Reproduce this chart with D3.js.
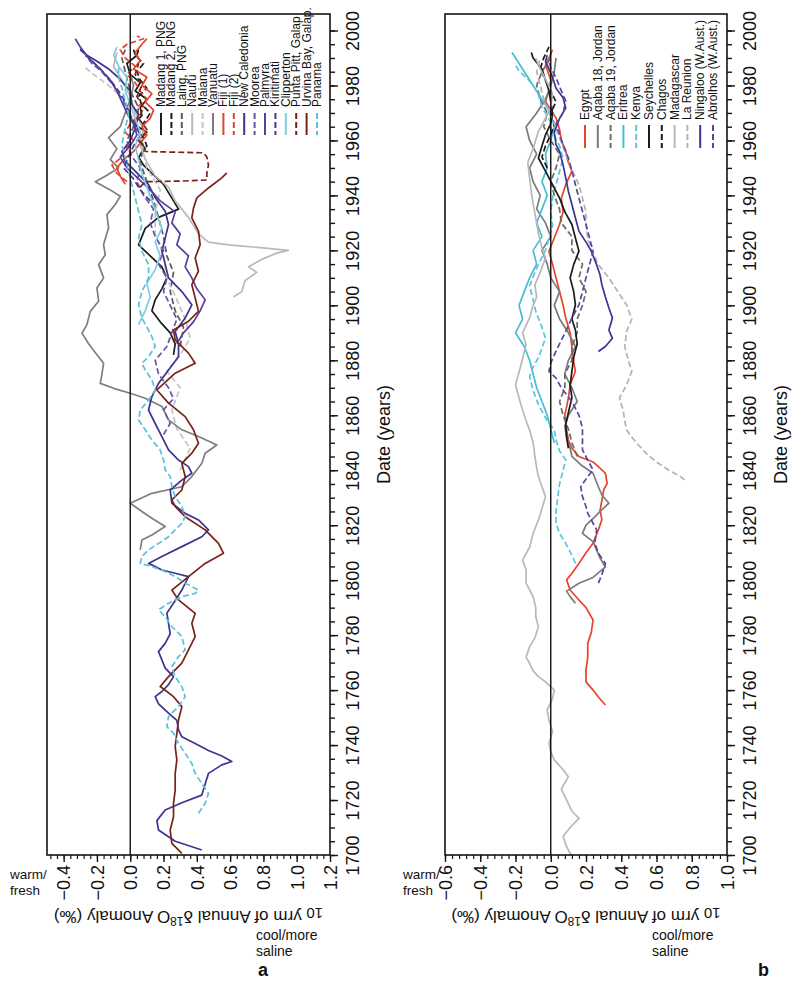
<!DOCTYPE html>
<html>
<head>
<meta charset="utf-8">
<script src="https://cdn.jsdelivr.net/npm/d3@7"></script>
<style>
  body { margin: 0; background: #fff; }
  svg { display: block; }
</style>
</head>
<body>
<div id="container"></div>
<script>
(function() {

// ---- data: [year, 10 yr running mean d18O anomaly] ----
// panel a (Pacific)
let madang1 = [[1882,0.26],[1886,0.27],[1890,0.24],[1894,0.18],[1898,0.13],[1902,0.15],[1906,0.19],[1910,0.22],[1914,0.19],[1918,0.12],[1922,0.05],[1925,0.07],[1928,0.09],[1932,0.17],[1935,0.29],[1937,0.27],[1941,0.23],[1944,0.2],[1948,0.13],[1951,0.08],[1954,0.05],[1957,0.09],[1960,0.05],[1963,0.1],[1966,0.02],[1969,0.07],[1972,0.06],[1975,0.1],[1978,0.03],[1981,0.06],[1984,0.0],[1988,-0.02],[1991,0.04],[1993,0.05]];
let madang2 = [[1955,0.06],[1958,0.1],[1961,0.08],[1964,0.04],[1967,0.09],[1970,0.12],[1973,0.07],[1976,0.05],[1979,0.1],[1982,0.06],[1985,0.04],[1988,0.08],[1991,0.03],[1993,0.02]];
let laing = [[1885,0.3],[1892,0.32],[1898,0.27],[1905,0.24],[1912,0.26],[1918,0.22],[1925,0.2],[1932,0.17],[1938,0.14],[1945,0.1],[1952,0.06],[1958,0.08],[1965,0.03],[1972,0.05],[1978,0.0],[1985,-0.03],[1990,-0.05],[1993,-0.03]];
let nauru = [[1903,0.62],[1905,0.67],[1909,0.69],[1912,0.76],[1914,0.71],[1917,0.8],[1919,0.88],[1920,0.95],[1921,0.78],[1922,0.59],[1923,0.47],[1926,0.41],[1929,0.38],[1932,0.35],[1935,0.31],[1938,0.27],[1943,0.23],[1947,0.15],[1952,0.1],[1958,0.06],[1964,0.08],[1970,0.03],[1976,0.0],[1982,-0.05],[1987,-0.1],[1992,-0.08]];
let maiana = [[1840,0.3],[1848,0.36],[1855,0.28],[1862,0.25],[1870,0.3],[1876,0.22],[1882,0.3],[1888,0.36],[1895,0.33],[1902,0.28],[1910,0.22],[1918,0.2],[1926,0.15],[1934,0.15],[1942,0.18],[1950,0.1],[1958,0.07],[1965,0.04],[1970,0.0],[1975,-0.04],[1980,-0.13],[1984,-0.22],[1987,-0.28]];
let vanuatu = [[1811,0.06],[1814.6,0.07],[1816.4,0.13],[1819.5,0.21],[1822.5,0.13],[1825,0.07],[1828,0.0],[1831.6,0.13],[1834,0.31],[1837.7,0.37],[1842.5,0.43],[1846.2,0.45],[1849.2,0.52],[1852.3,0.41],[1854.7,0.31],[1858.3,0.23],[1863.2,0.19],[1866.2,0.09],[1868,0.0],[1869.8,-0.1],[1871.6,-0.18],[1875,-0.17],[1878.9,-0.16],[1882,-0.2],[1886,-0.25],[1889.9,-0.29],[1893,-0.26],[1897.8,-0.24],[1901.5,-0.19],[1906.3,-0.2],[1910,-0.16],[1914.8,-0.19],[1918.4,-0.15],[1922.1,-0.16],[1928.2,-0.13],[1933,-0.14],[1936.7,-0.09],[1939.7,-0.06],[1942,-0.12],[1945,-0.21],[1947,-0.15],[1950,-0.07],[1953,-0.12],[1957,-0.08],[1961,-0.13],[1965,-0.06],[1970,-0.03],[1975,0.0],[1980,0.02],[1984,0.0]];
let fiji1 = [[1944,-0.03],[1947,-0.06],[1950,-0.08],[1953,-0.04],[1956,0.02],[1959,0.06],[1962,0.1],[1965,0.07],[1968,0.12],[1971,0.14],[1974,0.09],[1977,0.13],[1980,0.07],[1983,0.1],[1986,0.02],[1989,0.06],[1992,0.03],[1995,0.07],[1997,0.1]];
let fiji2 = [[1945,-0.02],[1948,-0.08],[1951,-0.11],[1954,-0.05],[1957,-0.03],[1960,0.02],[1963,-0.03],[1966,0.0],[1969,0.05],[1972,0.04],[1975,0.1],[1978,0.06],[1981,0.03],[1984,-0.02],[1987,0.03],[1990,-0.03],[1993,-0.06],[1995,-0.02],[1997,0.08],[1998,0.04]];
let newCaledonia = [[1701.8,0.43],[1705,0.27],[1709.1,0.17],[1712.5,0.16],[1716.4,0.21],[1719,0.31],[1721.8,0.43],[1725.8,0.45],[1729.7,0.47],[1732.8,0.55],[1734,0.61],[1736,0.55],[1738,0.47],[1740.6,0.39],[1743,0.31],[1745.5,0.29],[1749,0.28],[1751.6,0.23],[1755,0.17],[1757.6,0.15],[1759.5,0.19],[1762,0.23],[1764.9,0.26],[1768,0.21],[1771,0.19],[1774,0.17],[1777,0.21],[1780.5,0.24],[1784.3,0.23],[1788,0.22],[1791.6,0.26],[1796.4,0.31],[1801.3,0.35],[1802.5,0.27],[1803.7,0.19],[1805,0.15],[1806.1,0.11],[1808.6,0.19],[1812.2,0.31],[1815.8,0.43],[1818.3,0.47],[1821.9,0.41],[1824.3,0.33],[1828,0.25],[1832.8,0.24],[1836.4,0.31],[1838.9,0.37],[1841.3,0.35],[1843.7,0.29],[1847.4,0.23],[1852.2,0.19],[1857,0.15],[1861.9,0.11],[1866.8,0.13],[1871.6,0.17],[1876.5,0.23],[1881.3,0.29],[1886,0.29],[1890.5,0.27],[1895.4,0.33],[1900.2,0.37],[1905,0.31],[1910,0.23],[1915,0.21],[1919.7,0.19],[1924.5,0.21],[1929.4,0.23],[1934.2,0.21],[1939.1,0.15],[1943.9,0.11],[1948.8,0.03],[1952.4,-0.03],[1956,-0.05],[1960,0.0],[1964.5,0.03],[1969.4,0.05],[1973,0.01],[1978,0.0],[1982.8,-0.07],[1986,-0.13],[1988.8,-0.2],[1991,-0.26],[1993,-0.3]];
let moorea = [[1853,0.2],[1857,0.24],[1862,0.2],[1866,0.26],[1870,0.23],[1875,0.17],[1880,0.15],[1885,0.22],[1890,0.25],[1895,0.28],[1900,0.24],[1905,0.2],[1910,0.22],[1915,0.17],[1920,0.2],[1925,0.15],[1930,0.12],[1935,0.14],[1940,0.08],[1945,0.04],[1950,0.06],[1955,0.0],[1960,-0.02],[1965,0.02],[1970,0.0],[1975,-0.05],[1980,-0.1],[1985,-0.17],[1988,-0.23],[1991,-0.27]];
let palmyra = [[1886,0.28],[1890,0.32],[1894,0.38],[1898,0.42],[1902,0.45],[1906,0.4],[1910,0.37],[1914,0.33],[1918,0.35],[1922,0.28],[1926,0.3],[1930,0.25],[1934,0.27],[1938,0.18],[1942,0.12],[1946,0.05],[1950,-0.02],[1954,-0.06],[1958,0.0],[1962,0.04],[1966,0.02],[1970,-0.02],[1974,-0.05],[1978,-0.08],[1982,-0.12],[1986,-0.18],[1990,-0.25],[1994,-0.3],[1997,-0.33]];
let kiritimati = [[1938,0.12],[1942,0.06],[1946,0.02],[1950,-0.04],[1954,-0.01],[1958,0.02],[1962,0.06],[1966,0.03],[1970,-0.01],[1974,-0.03],[1978,-0.07],[1982,-0.12],[1986,-0.18],[1990,-0.25],[1994,-0.31]];
let clipperton = [[1893,0.05],[1898,0.09],[1903,0.12],[1908,0.1],[1913,0.15],[1918,0.18],[1923,0.15],[1928,0.19],[1933,0.16],[1938,0.13],[1943,0.1],[1948,0.07],[1953,0.05],[1958,0.03],[1963,0.06],[1968,0.03],[1973,0.0],[1978,-0.03],[1983,-0.02],[1987,-0.07],[1991,-0.1],[1994,-0.08]];
let puntaPitt = [[1943,0.06],[1945,0.09],[1945.2,0.3],[1945.6,0.46],[1948,0.46],[1951,0.47],[1954,0.46],[1955.5,0.44],[1955.8,0.2],[1956,0.09],[1960,0.06],[1964,0.1],[1968,0.05],[1972,0.08],[1976,0.04],[1980,0.07],[1984,0.03],[1988,0.05]];
let urvinaBay = [[1700.6,0.31],[1704.2,0.25],[1709.1,0.24],[1713.9,0.26],[1718.8,0.26],[1723.6,0.27],[1729.7,0.27],[1734.6,0.28],[1739.4,0.27],[1744.3,0.28],[1749.1,0.29],[1754,0.31],[1757.6,0.26],[1761.3,0.18],[1764.9,0.23],[1769.8,0.31],[1774.6,0.35],[1779.5,0.39],[1784.3,0.37],[1787.9,0.39],[1792.8,0.29],[1796.4,0.25],[1801.3,0.35],[1806.1,0.45],[1809.8,0.56],[1813.4,0.53],[1818.3,0.45],[1823.1,0.33],[1826.8,0.27],[1829.2,0.25],[1832.8,0.31],[1837.7,0.33],[1842.5,0.31],[1846.2,0.37],[1849.8,0.41],[1854.7,0.38],[1859.5,0.33],[1864.4,0.23],[1869.2,0.16],[1875.3,0.27],[1878.9,0.39],[1882.6,0.35],[1887.4,0.27],[1891,0.26],[1894.2,0.35],[1897.8,0.41],[1902.7,0.39],[1907.5,0.37],[1912.4,0.41],[1917.2,0.39],[1922.1,0.42],[1927,0.41],[1931.8,0.37],[1935.4,0.38],[1939.1,0.4],[1942.7,0.47],[1946.4,0.55],[1948.2,0.58]];
let panama = [[1715.2,0.41],[1718.8,0.45],[1722.4,0.47],[1726,0.43],[1729.7,0.39],[1733.3,0.37],[1737,0.33],[1740.6,0.29],[1744.3,0.26],[1746.7,0.22],[1750.4,0.23],[1754,0.29],[1757.6,0.33],[1761.3,0.31],[1764.9,0.27],[1768.5,0.25],[1772.2,0.29],[1774.6,0.33],[1779.5,0.31],[1783.1,0.25],[1786.7,0.21],[1789.2,0.17],[1791.6,0.23],[1794,0.31],[1795.2,0.39],[1796.4,0.41],[1798.9,0.33],[1801.3,0.27],[1803.7,0.19],[1804.9,0.13],[1806.1,0.06],[1808.6,0.07],[1811,0.11],[1813.4,0.17],[1815.8,0.23],[1818.3,0.27],[1820.7,0.31],[1823.1,0.33],[1826.8,0.31],[1830.4,0.27],[1834,0.25],[1837.7,0.24],[1840.1,0.21],[1843.7,0.2],[1847.4,0.18],[1851,0.13],[1854.7,0.09],[1858.3,0.05],[1861.9,0.06],[1865.5,0.11],[1869.2,0.15],[1872.8,0.13],[1876.5,0.09],[1878.9,0.07],[1881.3,0.11],[1885,0.15],[1888.6,0.13],[1891,0.11],[1895.4,0.07],[1900.2,0.05],[1905,0.07],[1910,0.11],[1914.8,0.11],[1919.7,0.07],[1924.5,0.05],[1929.4,0.07],[1934.2,0.05],[1939,0.03],[1943.9,0.01],[1948.8,-0.01],[1953.6,-0.03],[1958.5,-0.05],[1964.5,-0.03],[1969.4,-0.01],[1974.3,-0.03],[1979.1,-0.05],[1982.8,-0.07],[1986.4,-0.07]];

// panel b (Indian Ocean / Red Sea)
let egypt = [[1754.6,0.31],[1757.5,0.27],[1760,0.24],[1763,0.2],[1767.3,0.2],[1772,0.21],[1777,0.21],[1781,0.23],[1785.5,0.24],[1790,0.2],[1792.8,0.16],[1796.4,0.11],[1800.1,0.09],[1802.5,0.12],[1806.1,0.16],[1810,0.2],[1813.4,0.24],[1818.3,0.27],[1822,0.29],[1825.5,0.28],[1829,0.29],[1832.8,0.3],[1835.2,0.32],[1838.9,0.31],[1841.3,0.27],[1843,0.24],[1845,0.16],[1848,0.12],[1851,0.1],[1854.7,0.09],[1860,0.08],[1866.3,0.1],[1871,0.11],[1876,0.14],[1879.6,0.13],[1885,0.12],[1890,0.11],[1895.4,0.085],[1900,0.07],[1905,0.05],[1910,0.03],[1915,0.01],[1919.7,-0.01],[1924.5,0.02],[1929.4,0.05],[1934,0.07],[1939,0.06],[1943.9,0.085],[1948.8,0.12],[1952,0.1],[1956.1,0.085],[1960,0.06],[1964,0.05],[1968.2,0.03],[1971,0.0],[1974.3,-0.03],[1978,-0.01],[1982,0.0],[1987.6,-0.03],[1990,-0.01],[1993,0.01]];
let aqaba18 = [[1791.6,0.14],[1794,0.11],[1796,0.09],[1798.9,0.16],[1801,0.24],[1804.8,0.31],[1808,0.28],[1811,0.26],[1814,0.24],[1817,0.18],[1820,0.2],[1823,0.25],[1825,0.28],[1828,0.33],[1831,0.29],[1834,0.27],[1838.9,0.24],[1842,0.17],[1845,0.12],[1848,0.11],[1852,0.09],[1856,0.08],[1860,0.1],[1865,0.15],[1870,0.12],[1875,0.08],[1880,0.1],[1885,0.14],[1890,0.1],[1895,0.05],[1900,0.02],[1905,0.05],[1910,0.0],[1915,-0.02],[1920,-0.05],[1925,0.0],[1930,-0.03],[1935,-0.08],[1940,-0.06],[1945,-0.1],[1950,-0.12],[1955,-0.08],[1960,-0.12],[1965,-0.14],[1970,-0.08],[1975,-0.03],[1980,0.0],[1985,0.02],[1990,0.03]];
let aqaba19 = [[1845,0.15],[1850,0.12],[1855,0.1],[1860,0.07],[1865,0.05],[1870,0.08],[1875,0.08],[1880,0.12],[1885,0.12],[1890,0.15],[1895,0.15],[1900,0.18],[1905,0.2],[1910,0.16],[1915,0.18],[1920,0.12],[1925,0.12],[1930,0.06],[1935,0.05],[1940,0.02],[1945,0.0],[1950,0.03],[1955,0.05],[1960,0.0],[1965,-0.04],[1970,-0.02],[1975,-0.06],[1980,-0.08],[1985,-0.05],[1990,0.0],[1992,0.0]];
let eritrea = [[1850,0.02],[1855,0.0],[1860,-0.02],[1865,-0.05],[1870,-0.08],[1875,-0.1],[1880,-0.12],[1885,-0.15],[1890,-0.2],[1895,-0.16],[1900,-0.18],[1905,-0.15],[1910,-0.12],[1915,-0.08],[1920,-0.1],[1925,-0.05],[1930,-0.08],[1935,-0.05],[1940,-0.02],[1945,-0.05],[1950,-0.02],[1955,-0.03],[1960,0.0],[1965,0.02],[1970,0.0],[1975,-0.05],[1980,-0.1],[1985,-0.15],[1990,-0.2],[1992,-0.22]];
let kenya = [[1806.1,0.14],[1809,0.12],[1813.4,0.085],[1817,0.05],[1820.7,0.03],[1825,0.03],[1830.4,0.04],[1835,0.05],[1840.1,0.07],[1843.7,0.085],[1847,0.05],[1851,0.03],[1854.7,0.02],[1858,-0.02],[1863.8,-0.07],[1869,-0.1],[1874,-0.12],[1877.5,-0.1],[1881,-0.07],[1888,-0.03],[1892,-0.05],[1897.8,-0.085],[1902,-0.1],[1907,-0.12],[1912,-0.09],[1915,-0.07],[1920,-0.03],[1924.5,-0.01],[1929,0.01],[1934,0.0],[1939,0.01],[1943.9,0.03],[1948.8,0.05],[1953.6,0.07],[1958,0.05],[1963,0.01],[1968,-0.01],[1972,-0.05],[1976.7,-0.07],[1980,-0.1],[1983,-0.14],[1985.2,-0.18],[1987.6,-0.2]];
let seychelles = [[1848,0.1],[1852,0.09],[1856.6,0.085],[1861,0.1],[1866.3,0.12],[1871,0.11],[1876,0.12],[1881,0.13],[1886,0.15],[1891,0.14],[1895,0.12],[1900.2,0.14],[1905,0.13],[1910,0.11],[1914.8,0.13],[1919.7,0.16],[1924.5,0.14],[1929.4,0.12],[1934,0.08],[1939,0.05],[1943.9,0.01],[1948.8,-0.03],[1953.6,-0.07],[1958,-0.05],[1962,-0.03],[1966,0.0],[1970,0.01],[1974,0.0],[1978,-0.01],[1982,-0.03],[1986,-0.05],[1990,-0.1],[1992,-0.11]];
let chagos = [[1950,-0.02],[1954,-0.05],[1958,-0.03],[1962,0.0],[1966,0.02],[1970,0.0],[1974,0.03],[1978,0.0],[1982,-0.03],[1986,-0.06],[1990,-0.04],[1994,-0.01]];
let madagascar = [[1699.5,0.12],[1703,0.09],[1706.7,0.07],[1710,0.11],[1713.3,0.16],[1716,0.12],[1720,0.09],[1724,0.06],[1728.5,0.1],[1731,0.07],[1734.6,0.02],[1737.5,0.0],[1740.6,-0.01],[1745,0.01],[1749,-0.01],[1752.8,-0.02],[1757,0.01],[1760,0.02],[1763,-0.03],[1764.9,-0.07],[1767,-0.1],[1769.7,-0.12],[1772,-0.14],[1775.8,-0.12],[1779,-0.09],[1783.1,-0.07],[1786.7,-0.085],[1790,-0.085],[1794,-0.1],[1798.9,-0.14],[1803.7,-0.14],[1807.3,-0.16],[1812,-0.12],[1817,-0.1],[1821.9,-0.07],[1826,-0.05],[1830.4,-0.03],[1834,-0.05],[1837.7,-0.07],[1841,-0.08],[1845,-0.09],[1850,-0.1],[1854.7,-0.12],[1858,-0.14],[1864,-0.17],[1871,-0.2],[1878,-0.17],[1885.7,-0.14],[1890,-0.16],[1895.4,-0.12],[1900,-0.1],[1903,-0.08],[1907.5,-0.09],[1912,-0.06],[1917.2,-0.03],[1921,-0.05],[1926,-0.07],[1931.8,-0.085],[1937,-0.1],[1941,-0.11],[1946.4,-0.12],[1952,-0.13],[1957,-0.1],[1963.3,-0.07],[1968,-0.03],[1972,0.0],[1976.7,0.01],[1981,-0.02],[1986,-0.06],[1990,-0.085]];
let laReunion = [[1836.5,0.76],[1838,0.73],[1840,0.67],[1843,0.6],[1846.2,0.54],[1849,0.5],[1852,0.46],[1854.7,0.43],[1858,0.42],[1862,0.41],[1866.3,0.39],[1871,0.43],[1876,0.46],[1880,0.44],[1885,0.42],[1890.5,0.43],[1895,0.46],[1900.2,0.43],[1905,0.38],[1910,0.33],[1914.8,0.27],[1919,0.24],[1924,0.21],[1929.4,0.2],[1934,0.2],[1939,0.18],[1943.9,0.16],[1948,0.13],[1952,0.1],[1956,0.08],[1960.9,0.05],[1966,0.02],[1970,-0.01],[1975,-0.04],[1980,-0.06],[1985,-0.08],[1990,-0.06]];
let ningaloo = [[1883.2,0.27],[1885,0.31],[1888,0.35],[1891,0.33],[1895.4,0.35],[1899,0.33],[1903,0.31],[1907.5,0.29],[1911,0.28],[1914.8,0.26],[1919.7,0.23],[1923,0.2],[1927,0.16],[1931.8,0.14],[1936.7,0.12],[1941.5,0.1],[1946.4,0.085],[1951,0.07],[1956,0.05],[1958.5,0.03],[1963,0.02],[1968,0.05],[1971.8,0.085],[1975.5,0.07],[1979,0.03],[1983,0.01],[1986,-0.01],[1988.8,-0.03],[1991,-0.02]];
let abrolhos = [[1798.9,0.27],[1802,0.29],[1806.1,0.31],[1809.8,0.27],[1813.4,0.25],[1818.3,0.26],[1821.9,0.23],[1824.3,0.21],[1826.8,0.2],[1830.4,0.18],[1834,0.17],[1837.7,0.21],[1840.1,0.24],[1843.7,0.21],[1847.4,0.18],[1851,0.18],[1855.3,0.18],[1860,0.16],[1865,0.12],[1870,0.06],[1873.5,0.03],[1876,-0.01],[1879,0.0],[1882,0.02],[1886,0.05],[1890.5,0.085],[1895.4,0.12],[1900.2,0.16],[1905,0.18],[1910,0.2],[1914.8,0.22],[1919.7,0.24],[1924.5,0.22],[1929.4,0.2],[1934.2,0.18],[1939,0.16],[1943.9,0.14],[1948.8,0.12],[1953.6,0.1],[1958.5,0.07],[1962,0.05],[1966,0.03],[1970,0.07],[1974.3,0.085],[1978,0.06],[1982.8,0.03],[1986.4,0.0],[1988.8,-0.01]];

let namesA = ["Madang 1, PNG", "Madang 2, PNG", "Laing, PNG", "Nauru", "Maiana", "Vanuatu", "Fiji (1)", "Fiji (2)",
  "New Caledonia", "Moorea", "Palmyra", "Kiritimati", "Clipperton", "Punta Pitt, Galap", "Urvina Bay, Galap.", "Panama"];
let seriesA = [madang1, madang2, laing, nauru, maiana, vanuatu, fiji1, fiji2,
  newCaledonia, moorea, palmyra, kiritimati, clipperton, puntaPitt, urvinaBay, panama];
let colorsA = ["#1b1b1b", "#1b1b1b", "#5a5a5a", "#b9b9b9", "#c4c4c4", "#7e7e7e", "#e2432c", "#e2432c",
  "#3b3492", "#6a52aa", "#5a3e9f", "#4a3895", "#7fcce2", "#7a2215", "#7a2215", "#5cc0da"];
let dashedA = [false, true, true, false, true, false, false, true, false, true, false, true, false, true, false, true];

let namesB = ["Egypt", "Aqaba 18, Jordan", "Aqaba 19, Jordan", "Eritrea", "Kenya", "Seychelles", "Chagos",
  "Madagascar", "La Reunion", "Ningaloo (W.Aust.)", "Abrolhos (W.Aust.)"];
let seriesB = [egypt, aqaba18, aqaba19, eritrea, kenya, seychelles, chagos, madagascar, laReunion, ningaloo, abrolhos];
let colorsB = ["#e8442b", "#7b7b7b", "#6a6a6a", "#46bdd7", "#5cc4dc", "#1b1b1b", "#1b1b1b",
  "#b8b8b8", "#b3b3b3", "#3b3595", "#5b44a3"];
let dashedB = [false, false, true, false, true, false, true, false, true, false, true];

let dateTicks = d3.range(1700, 2001, 20);
let dateMinor = d3.range(1700, 2001, 5);

// ---- layout ----
let width = 792, height = 983;
let plotTop = 14, plotBottom = 855;
let font = '"Liberation Sans", Arial, Helvetica, sans-serif';

let svg = d3.select("#container").append("svg")
  .attr("width", width)
  .attr("height", height)
  .style("font-family", font);

let y = d3.scaleLinear().domain([1700, 2006]).range([plotBottom, plotTop]);

let panels = [
  { id: "a", left: 47, right: 330, domain: [-0.5, 1.2], step: 0.2,
    names: namesA, series: seriesA, colors: colorsA, dashed: dashedA,
    legendX: 161, legendDx: 10.4, legendTop: 113, legendBottom: 135, legendTextY: 107,
    warmX: 10, coolX: 256, letterX: 258 },
  { id: "b", left: 445, right: 727, domain: [-0.6, 1.0], step: 0.2,
    names: namesB, series: seriesB, colors: colorsB, dashed: dashedB,
    legendX: 585, legendDx: 12.8, legendTop: 125, legendBottom: 148, legendTextY: 120,
    warmX: 403, coolX: 652, letterX: 758 }
];

panels.forEach(drawPanel);

function drawPanel(p) {
  let x = d3.scaleLinear().domain(p.domain).range([p.left, p.right]);
  let g = svg.append("g");

  let clipId = "clip-" + p.id;
  g.append("clipPath").attr("id", clipId)
    .append("rect")
      .attr("x", p.left).attr("y", plotTop)
      .attr("width", p.right - p.left).attr("height", plotBottom - plotTop);

  // lines
  let line = d3.line()
    .x((d) => x(d[1]))
    .y((d) => y(d[0]));
  let lines = g.append("g").attr("clip-path", "url(#" + clipId + ")");
  p.series.forEach((s, i) => {
    lines.append("path")
      .datum(s)
      .attr("d", line)
      .attr("fill", "none")
      .attr("stroke", p.colors[i])
      .attr("stroke-width", 1.7)
      .attr("stroke-linejoin", "round")
      .attr("stroke-dasharray", p.dashed[i] ? "6,3" : null);
  });

  // zero line
  g.append("line")
    .attr("x1", x(0)).attr("x2", x(0))
    .attr("y1", plotTop).attr("y2", plotBottom)
    .attr("stroke", "#111").attr("stroke-width", 1.4);

  // frame
  g.append("rect")
    .attr("x", p.left).attr("y", plotTop)
    .attr("width", p.right - p.left).attr("height", plotBottom - plotTop)
    .attr("fill", "none").attr("stroke", "#1a1210").attr("stroke-width", 1.6);

  // date axis on the right edge
  let minorDate = g.append("g")
    .attr("transform", "translate(" + p.right + ",0)")
    .call(d3.axisRight(y).tickValues(dateMinor).tickSize(5).tickSizeOuter(0).tickFormat(""));
  minorDate.select(".domain").remove();
  let majorDate = g.append("g")
    .attr("transform", "translate(" + p.right + ",0)")
    .call(d3.axisRight(y).tickValues(dateTicks).tickSize(8).tickSizeOuter(0).tickFormat(d3.format("d")));
  majorDate.select(".domain").remove();
  g.selectAll(".tick line").attr("stroke", "#1a1210").attr("stroke-width", 1.4);
  majorDate.selectAll(".tick text")
    .attr("x", null).attr("dy", "0.35em")
    .attr("text-anchor", "middle")
    .attr("transform", "translate(23,0) rotate(-90)")
    .attr("font-size", 18).attr("font-family", font).attr("fill", "#111");

  // anomaly axis along the bottom
  let d0 = Math.ceil(p.domain[0] / 0.04 - 1e-9), d1 = Math.floor(p.domain[1] / 0.04 + 1e-9);
  let minorVals = d3.range(d0, d1 + 1).map((k) => k * 0.04);
  let n0 = Math.ceil(p.domain[0] / p.step - 1e-9), n1 = Math.floor(p.domain[1] / p.step + 1e-9);
  let majorVals = d3.range(n0, n1 + 1).map((k) => k * p.step);

  let minorAn = g.append("g")
    .attr("transform", "translate(0," + plotBottom + ")")
    .call(d3.axisBottom(x).tickValues(minorVals).tickSize(4).tickSizeOuter(0).tickFormat(""));
  minorAn.select(".domain").remove();
  let majorAn = g.append("g")
    .attr("transform", "translate(0," + plotBottom + ")")
    .call(d3.axisBottom(x).tickValues(majorVals).tickSize(7).tickSizeOuter(0).tickFormat(d3.format(".1f")));
  majorAn.select(".domain").remove();
  minorAn.selectAll(".tick line").attr("stroke", "#1a1210").attr("stroke-width", 1.2);
  majorAn.selectAll(".tick line").attr("stroke", "#1a1210").attr("stroke-width", 1.4);
  majorAn.selectAll(".tick text")
    .attr("y", null).attr("dy", "0.35em")
    .attr("text-anchor", "end")
    .attr("transform", "translate(0,10) rotate(-90)")
    .attr("font-size", 18).attr("font-family", font).attr("fill", "#111");

  // axis titles
  let cx = (p.left + p.right) / 2;
  g.append("text")
    .attr("transform", "translate(" + (p.right + 54) + "," + ((plotTop + plotBottom) / 2) + ") rotate(-90)")
    .attr("text-anchor", "middle").attr("dy", "0.35em")
    .attr("font-size", 18).attr("fill", "#111")
    .text("Date (years)");

  let yt = g.append("text")
    .attr("transform", "translate(" + cx + ",911) rotate(180)")
    .attr("text-anchor", "middle").attr("dy", "0.35em")
    .attr("font-size", 17).attr("fill", "#111");
  yt.append("tspan").attr("font-size", 15).attr("dy", 3).text("10");
  yt.append("tspan").attr("dy", -3).text(" yrm of Annual δ");
  yt.append("tspan").attr("dy", -6).attr("font-size", 12).text("18");
  yt.append("tspan").attr("dy", 6).text("O Anomaly (‰)");

  g.append("text").attr("x", p.warmX).attr("y", 879).attr("font-size", 13.5).attr("fill", "#111").text("warm/");
  g.append("text").attr("x", p.warmX).attr("y", 895).attr("font-size", 13.5).attr("fill", "#111").text("fresh");
  g.append("text").attr("x", p.coolX).attr("y", 940).attr("font-size", 14).attr("fill", "#111").text("cool/more");
  g.append("text").attr("x", p.coolX).attr("y", 956).attr("font-size", 14).attr("fill", "#111").text("saline");
  g.append("text").attr("x", p.letterX).attr("y", 976)
    .attr("font-size", 18).attr("font-weight", "bold").attr("fill", "#111").text(p.id);

  // legend
  let leg = g.append("g");
  p.names.forEach((name, i) => {
    let lx = p.legendX + i * p.legendDx;
    leg.append("line")
      .attr("x1", lx).attr("x2", lx)
      .attr("y1", p.legendTop).attr("y2", p.legendBottom)
      .attr("stroke", p.colors[i]).attr("stroke-width", 2)
      .attr("stroke-dasharray", p.dashed[i] ? "6,3" : null);
    leg.append("text")
      .attr("transform", "translate(" + (lx + 4) + "," + p.legendTextY + ") rotate(-90)")
      .attr("font-size", 12).attr("fill", "#111")
      .text(name);
  });
}

})();
</script>
</body>
</html>
